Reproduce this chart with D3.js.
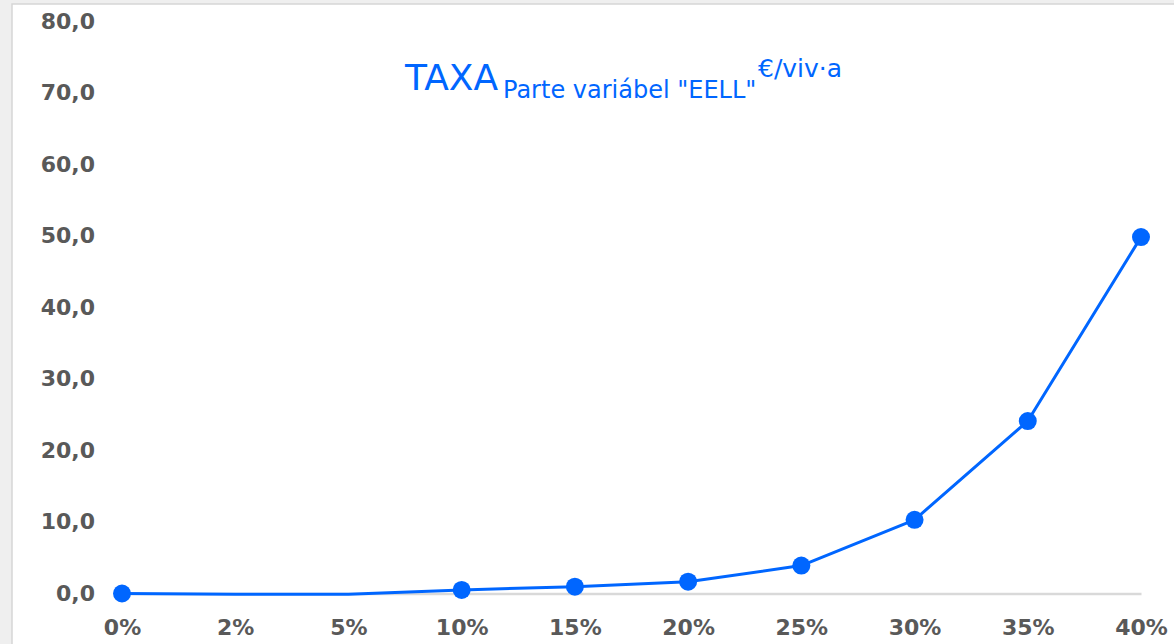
<!DOCTYPE html>
<html>
<head>
<meta charset="utf-8">
<script src="https://cdn.jsdelivr.net/npm/d3@7"></script>
<style>
  html, body { margin: 0; padding: 0; background: #efefef; }
  svg { display: block; }
</style>
</head>
<body>
<svg id="chart" width="1174" height="644"></svg>
<script>
const categories = ["0%", "2%", "5%", "10%", "15%", "20%", "25%", "30%", "35%", "40%"];
const values = [0.0, -0.1, -0.1, 0.5, 0.95, 1.65, 3.9, 10.3, 24.1, 49.8];
const hasMarker = [true, false, false, true, true, true, true, true, true, true];
const yTicks = [0, 10, 20, 30, 40, 50, 60, 70, 80];
const titleMain = "TAXA";
const titleSub = "Parte variábel \"EELL\"";
const titleSup = "€/viv·a";

const W = 1174, H = 644;
const blue = "#0066ff";
const labelColor = "#595959";
const font = "'DejaVu Sans', Verdana, sans-serif";

const svg = d3.select("#chart");

// chart area frame
svg.append("rect")
  .attr("x", 12).attr("y", 4)
  .attr("width", W).attr("height", H)
  .attr("fill", "#ffffff")
  .attr("stroke", "#d6d6d6").attr("stroke-width", 1.5);

const x = d3.scalePoint().domain(categories).range([122, 1141]).padding(0);
const y = d3.scaleLinear().domain([0, 80]).range([593.5, 21]);

const loc = d3.formatLocale({ decimal: ",", thousands: ".", grouping: [3], currency: ["", "€"] });
const fmt = loc.format(".1f");

// Y axis (labels only)
const yAxis = svg.append("g")
  .attr("transform", "translate(122,0)")
  .call(d3.axisLeft(y).tickValues(yTicks).tickFormat(fmt).tickSize(0).tickPadding(27));
yAxis.select(".domain").remove();
yAxis.selectAll("text")
  .attr("fill", labelColor)
  .style("font-family", font)
  .style("font-weight", "bold")
  .style("font-size", "22px");

// X axis
const xAxis = svg.append("g")
  .attr("transform", `translate(0,${y(0)})`)
  .call(d3.axisBottom(x).tickSize(0).tickSizeOuter(0).tickPadding(26));
xAxis.select(".domain")
  .attr("stroke", "#d9d9d9").attr("stroke-width", 2.5);
xAxis.selectAll("text")
  .attr("fill", labelColor)
  .style("font-family", font)
  .style("font-weight", "bold")
  .style("font-size", "22px");

// Line
const data = categories.map((c, i) => ({ c, v: values[i], m: hasMarker[i] }));
const line = d3.line().x(d => x(d.c)).y(d => y(d.v));
svg.append("path")
  .datum(data)
  .attr("d", line)
  .attr("fill", "none")
  .attr("stroke", blue)
  .attr("stroke-width", 3)
  .attr("stroke-linejoin", "round");

svg.append("g").selectAll("circle")
  .data(data.filter(d => d.m))
  .join("circle")
  .attr("cx", d => x(d.c))
  .attr("cy", d => y(d.v))
  .attr("r", 9)
  .attr("fill", blue);

// Title
const title = svg.append("text")
  .attr("fill", blue)
  .style("font-family", font);
title.append("tspan")
  .attr("x", 405).attr("y", 90)
  .style("font-size", "36px")
  .text(titleMain);
title.append("tspan")
  .attr("x", 503).attr("y", 98)
  .style("font-size", "24px")
  .text(titleSub);
title.append("tspan")
  .attr("x", 758).attr("y", 77)
  .style("font-size", "25px")
  .text(titleSup);
</script>
</body>
</html>
